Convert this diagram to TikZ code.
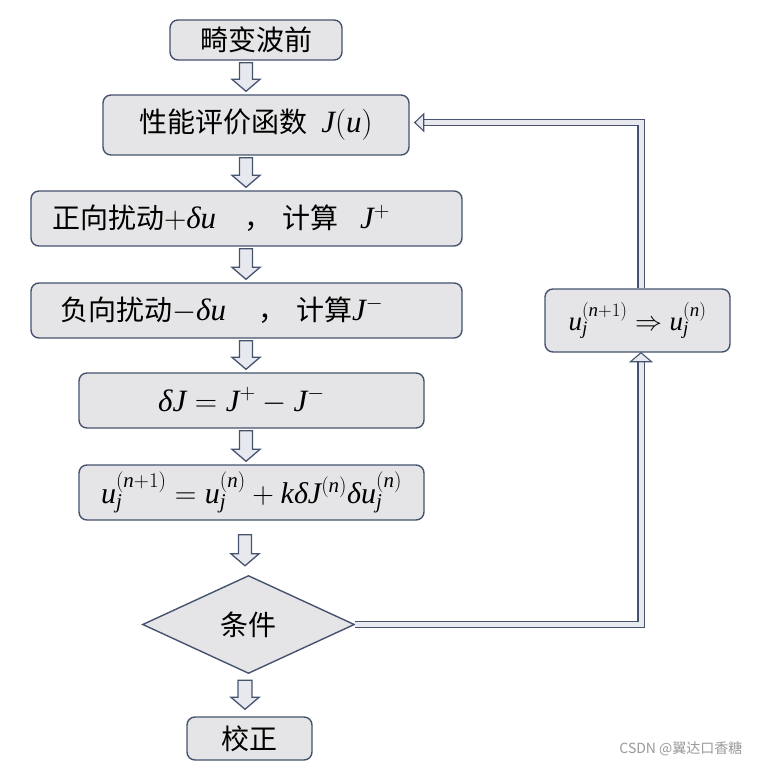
\RequirePackage{fix-cm}
\documentclass[tikz,border=0pt]{standalone}
\usepackage{fontspec}
\usetikzlibrary{shapes.geometric,calc}
\newfontfamily\cjk{Noto Sans CJK SC}
\newfontfamily\tmsfam{Liberation Serif}[NFSSFamily=libser]
\DeclareSymbolFont{letters}{TU}{libser}{m}{it}
\DeclareSymbolFont{operators}{TU}{libser}{m}{n}
\Umathchardef\delta="0 "1 "3B4
\definecolor{bord}{HTML}{46536F}
\definecolor{boxfill}{HTML}{E5E5E7}
\definecolor{arrfill}{HTML}{E8E9EE}
\definecolor{wm}{HTML}{9A9A9A}
\newcommand\mth{\fontsize{31}{34}\selectfont}
\tikzset{
  box/.style={draw=bord, fill=boxfill, line width=1.4pt, rounded corners=8pt,
    font=\fontsize{28}{32}\selectfont\cjk, inner sep=0pt},
  cond/.style={diamond, draw=bord, fill=boxfill, line width=1.4pt,
    font=\fontsize{28}{32}\selectfont\cjk, inner sep=0pt},
  arrline/.style={draw=bord, line width=1.1pt, double=arrfill, double distance=5pt, line join=miter},
  arrhead/.style={draw=bord, fill=arrfill, line width=1.1pt, line join=miter},
  blk/.style={draw=bord, fill=arrfill, line width=1.3pt, line join=miter}
}
\newcommand\vblock[3]{%
  \path let \p1=(#2.south), \p2=(#3.north) in
   [blk] ({#1-6.5pt},{\y1-2pt}) -- ({#1+6.5pt},{\y1-2pt}) -- ({#1+6.5pt},{\y2+15pt})
   -- ({#1+14pt},{\y2+15pt}) -- (#1,{\y2+3pt}) -- ({#1-14pt},{\y2+15pt})
   -- ({#1-6.5pt},{\y2+15pt}) -- cycle;}
\begin{document}
\begin{tikzpicture}[x=1pt,y=-1pt]
\useasboundingbox (0,0) rectangle (761,775);
\fill[white] (0,0) rectangle (761,775);
% boxes
\node[box, minimum width=172pt, minimum height=40pt] (A) at (256,40) {畸变波前};
\node[box, minimum width=306pt, minimum height=60pt] (B) at (256,125) {性能评价函数\hspace{14pt}{\mth$J(u)$}};
\node[box, text width=389pt, align=left, inner xsep=21pt, minimum height=55pt] (C) at (246.5,218.5)
  {正向扰动{\mth$+\delta u$}\hspace{28pt}，\hspace{10pt}计算\hspace{22pt}{\mth$J^{+}$}};
\node[box, text width=373pt, align=left, inner xsep=29pt, minimum height=55pt] (D) at (246.5,310.5)
  {负向扰动{\mth$-\delta u$}\hspace{32pt}，\hspace{10pt}计算{\mth$J^{-}$}};
\node[box, minimum width=345pt, minimum height=55pt, font=\mth] (E) at (251.5,400.5)
  {$\delta J = J^{+} - J^{-}$\hspace*{20pt}};
\node[box, minimum width=345pt, minimum height=55pt, font=\fontsize{30}{34}\selectfont] (F) at (251.5,492.5)
  {$u_j^{(n+1)} = u_j^{(n)} + k\delta J^{(n)}\delta u_j^{(n)}$};
\node[cond, minimum width=212pt, minimum height=98pt] (G) at (248.5,624.5) {条件};
\node[box, minimum width=125pt, minimum height=43pt] (H) at (249.5,738.5) {校正};
\node[box, minimum width=185pt, minimum height=63pt, font=\fontsize{27}{30}\selectfont] (R) at (637.5,320.5)
  {$u_j^{(n+1)} \Rightarrow u_j^{(n)}$};
% block arrows
\vblock{246pt}{A}{B}
\vblock{246pt}{B}{C}
\vblock{246pt}{C}{D}
\vblock{246pt}{D}{E}
\vblock{246pt}{E}{F}
\path let \p1=(F.south), \p2=(G.north) in
   [blk] ({245pt-6.5pt},{\y1-14pt}) -- ({245pt+6.5pt},{\y1-14pt}) -- ({245pt+6.5pt},{\y2+21pt})
   -- ({245pt+14pt},{\y2+21pt}) -- (245pt,{\y2+9pt}) -- ({245pt-14pt},{\y2+21pt})
   -- ({245pt-6.5pt},{\y2+21pt}) -- cycle;
\path let \p1=(G.south), \p2=(H.north) in
   [blk] ({245pt-7pt},{\y1-6pt}) -- ({245pt+7pt},{\y1-6pt}) -- ({245pt+7pt},{\y2+19pt})
   -- ({245pt+14pt},{\y2+19pt}) -- (245pt,{\y2+7pt}) -- ({245pt-14pt},{\y2+19pt})
   -- ({245pt-7pt},{\y2+19pt}) -- cycle;
% feedback
\coordinate (rs) at ($(R.south)+(3.5,0)$);
\coordinate (rn) at ($(R.north)+(3.5,0)$);
\coordinate (bl) at ($(B.east)+(5,-2.5)$);
\draw[arrline] (G.east) -- (G.east -| rs) -- ($(rs)+(0,9)$);
\draw[arrhead] (rs) -- ($(rs)+(10.5,9)$) -- ($(rs)+(-10.5,9)$) -- cycle;
\draw[arrline] (rn) -- (rn |- bl) -- ($(bl)+(9,0)$);
\draw[arrhead] (bl) -- ($(bl)+(9,-8.5)$) -- ($(bl)+(9,8.5)$) -- cycle;
% watermark
\node[font=\fontsize{14}{16}\selectfont\cjk, text=wm, anchor=east] (W) at (746,749) {CSDN @翼达口香糖};
\end{tikzpicture}
\end{document}
